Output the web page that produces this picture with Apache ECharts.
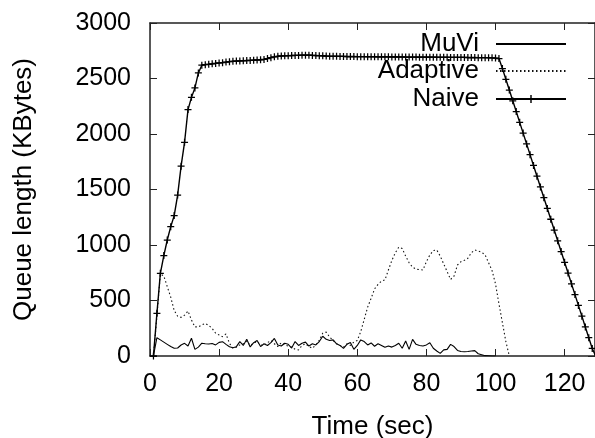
<!DOCTYPE html>
<html>
<head>
<meta charset="utf-8">
<script src="https://cdn.jsdelivr.net/npm/echarts@6/dist/echarts.min.js"></script>
<style>
html, body { margin: 0; padding: 0; background: #fff; }
#chart { width: 595px; height: 438px; }
</style>
</head>
<body>
<div id="chart"></div>
<script>
// queue length samples, one per second starting at t = 1 s
var muviQueue = [0, 165, 145, 125, 105, 85, 70, 72, 99, 114,
    90, 160, 60, 80, 115, 110, 108, 112, 100, 123,
    129, 105, 84, 75, 84, 130, 95, 150, 82, 120,
    140, 85, 110, 95, 120, 158, 100, 90, 115, 105,
    72, 130, 95, 115, 125, 90, 110, 100, 130, 178,
    150, 140, 145, 110, 95, 68, 105, 122, 60, 95,
    145, 130, 100, 118, 88, 110, 95, 78, 90, 80,
    95, 115, 70, 135, 60, 150, 105, 95, 90, 100,
    120, 70, 45, 24, 55, 60, 105, 85, 50, 40,
    38, 40, 45, 48, 20, 12, 3, 2, 0, 0];

var adaptiveQueue = [0, 360, 740, 720, 625, 530, 410, 358, 348, 368,
    405, 325, 262, 262, 280, 294, 275, 248, 205, 190,
    174, 198, 114, 70, 80, 100, 110, 135, 95, 115,
    130, 100, 95, 120, 140, 110, 85, 120, 100, 90,
    80, 60, 55, 95, 110, 85, 70, 100, 140, 205,
    215, 170, 140, 110, 95, 80, 110, 95, 125, 140,
    220, 330, 440, 520, 605, 645, 675, 685, 775, 860,
    930, 980, 968, 900, 840, 800, 782, 778, 775, 850,
    910, 950, 955, 900, 830, 760, 690, 720, 820, 850,
    862, 880, 930, 955, 945, 935, 910, 840, 770, 650,
    470, 300, 130, 0];

var naiveQueue = [0, 385, 745, 905, 1045, 1165, 1265, 1450, 1710, 1925,
    2220, 2330, 2415, 2550, 2620, 2625, 2628, 2632, 2636, 2640,
    2643, 2648, 2652, 2655, 2657, 2658, 2660, 2662, 2663, 2665,
    2667, 2668, 2672, 2680, 2688, 2695, 2700, 2703, 2705, 2706,
    2707, 2708, 2708, 2710, 2710, 2710, 2708, 2707, 2706, 2705,
    2702, 2700, 2700, 2700, 2699, 2699, 2698, 2698, 2698, 2697,
    2697, 2697, 2696, 2696, 2696, 2695, 2695, 2695, 2695, 2694,
    2694, 2694, 2694, 2693, 2693, 2693, 2693, 2692, 2692, 2692,
    2692, 2692, 2691, 2691, 2691, 2691, 2690, 2690, 2690, 2690,
    2690, 2689, 2689, 2689, 2688, 2688, 2688, 2687, 2686, 2684,
    2680, 2590, 2493, 2396, 2299, 2202, 2105, 2008, 1911, 1814,
    1717, 1620, 1523, 1426, 1329, 1232, 1135, 1038, 941, 844,
    747, 650, 553, 456, 359, 262, 165, 68, 0];

var xTicks = [0, 20, 40, 60, 80, 100, 120];
var yTicks = [0, 500, 1000, 1500, 2000, 2500, 3000];

function withTime(list) {
    return list.map(function (v, i) { return [i + 1, v]; });
}

var font = 'Liberation Sans, Arial, sans-serif';
var ink = '#000';
var plusIcon = 'path://M4.1,0H5.9V10H4.1Z M0,4.1H10V5.9H0Z';

var chart = echarts.init(document.getElementById('chart'), null, { renderer: 'canvas' });

function tickStyle() {
    return { show: true, inside: true, length: 7, lineStyle: { color: '#222', width: 1 } };
}
function axisLineStyle() {
    return { show: true, onZero: false, lineStyle: { color: '#222', width: 1.5 } };
}

function legendFor(name, top, hideDot) {
    var item = { name: name };
    if (hideDot) item.itemStyle = { opacity: 0 };
    return {
        data: [item],
        right: 28,
        top: top,
        align: 'right',
        orient: 'vertical',
        padding: 0,
        itemWidth: 70,
        itemHeight: 10,
        selectedMode: false,
        textStyle: { fontFamily: font, fontSize: 26, color: ink, padding: [0, 12, 0, 0] }
    };
}

var option = {
    animation: false,
    backgroundColor: '#fff',
    legend: [legendFor('MuVi', 31, true), legendFor('Adaptive', 58, true), legendFor('Naive', 86, false)],
    grid: { left: 150, top: 23, width: 445, height: 333, containLabel: false, outerBoundsMode: 'none' },
    xAxis: [{
        type: 'value',
        min: 0,
        max: 128.8,
        interval: 20,
        name: 'Time (sec)',
        nameLocation: 'middle',
        nameGap: 58,
        nameTextStyle: { fontFamily: font, fontSize: 26, color: ink },
        axisLine: axisLineStyle(),
        axisTick: tickStyle(),
        splitLine: { show: false },
        axisLabel: {
            fontFamily: font, fontSize: 25, color: ink, margin: 16,
            showMaxLabel: false,
            formatter: function (v) { return xTicks.indexOf(v) >= 0 ? String(v) : ''; }
        }
    }, {
        type: 'value',
        position: 'top',
        min: 0,
        max: 128.8,
        interval: 20,
        axisLine: axisLineStyle(),
        axisTick: tickStyle(),
        splitLine: { show: false },
        axisLabel: { show: false }
    }],
    yAxis: [{
        type: 'value',
        min: 0,
        max: 3000,
        interval: 500,
        name: 'Queue length (KBytes)',
        nameLocation: 'middle',
        nameGap: 113,
        nameTextStyle: { fontFamily: font, fontSize: 26, color: ink },
        axisLine: axisLineStyle(),
        axisTick: tickStyle(),
        splitLine: { show: false },
        axisLabel: {
            fontFamily: font, fontSize: 25, color: ink, margin: 19,
            formatter: function (v) { return yTicks.indexOf(v) >= 0 ? String(v) : ''; }
        }
    }, {
        type: 'value',
        position: 'right',
        min: 0,
        max: 3000,
        interval: 500,
        axisLine: axisLineStyle(),
        axisTick: tickStyle(),
        splitLine: { show: false },
        axisLabel: { show: false }
    }],
    series: [{
        name: 'MuVi',
        type: 'line',
        symbol: 'none',
        data: withTime(muviQueue),
        lineStyle: { color: ink, width: 1.1 },
        itemStyle: { color: ink }
    }, {
        name: 'Adaptive',
        type: 'line',
        symbol: 'none',
        data: withTime(adaptiveQueue),
        lineStyle: { color: '#111', width: 1.1, type: [1.5, 2.5] },
        itemStyle: { color: '#111' }
    }, {
        name: 'Naive',
        type: 'line',
        symbol: plusIcon,
        symbolSize: 7,
        showSymbol: true,
        data: withTime(naiveQueue),
        lineStyle: { color: ink, width: 1.4 },
        itemStyle: { color: ink }
    }]
};

chart.setOption(option);
</script>
</body>
</html>
